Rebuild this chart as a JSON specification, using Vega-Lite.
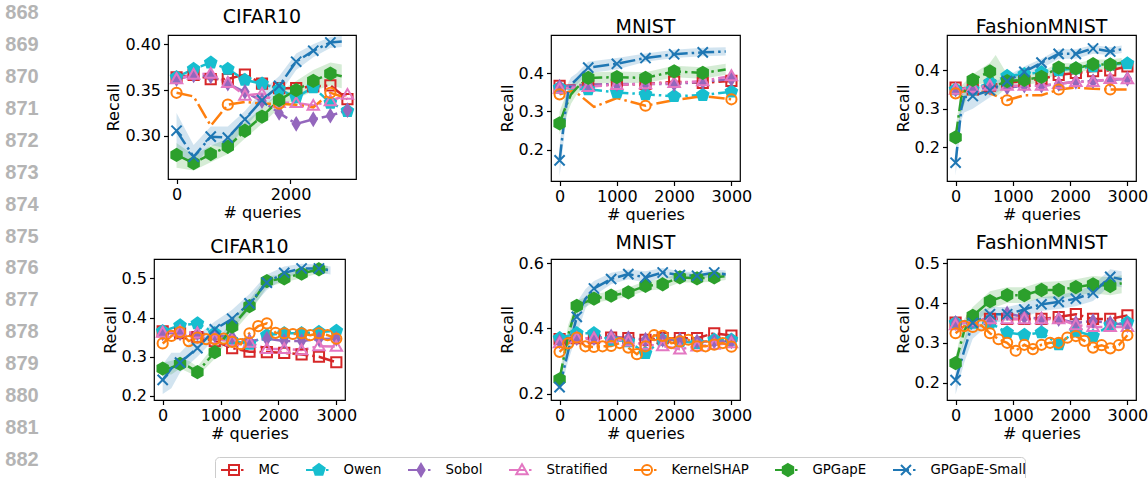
{
"$schema": "https://vega.github.io/schema/vega-lite/v6.json",
"padding": 0,
"autosize": {"type": "pad"},
"config": {
  "font": "DejaVu Sans",
  "view": {"stroke": null},
  "axis": {"domain": false, "grid": false, "tickColor": "black", "tickSize": 4.5, "tickWidth": 1.2, "labelFont": "DejaVu Sans", "labelFontSize": 16, "labelColor": "black", "labelPadding": 3, "labelOverlap": false, "titleFont": "DejaVu Sans", "titleFontSize": 16, "titleFontWeight": "normal", "titleColor": "black"},
  "axisX": {"titlePadding": 2},
  "axisY": {"titlePadding": 3},
  "title": {"font": "DejaVu Sans", "fontSize": 19, "fontWeight": "normal", "color": "black", "baseline": "bottom", "offset": 2, "frame": "group"}
},
"spacing": 0,
"datasets": {
"d": [
{"p":"c1","m":"MC","q":0,"y":0.364},{"p":"c1","m":"MC","q":300,"y":0.3665},{"p":"c1","m":"MC","q":600,"y":0.362},{"p":"c1","m":"MC","q":900,"y":0.362},{"p":"c1","m":"MC","q":1200,"y":0.367},{"p":"c1","m":"MC","q":1500,"y":0.357},{"p":"c1","m":"MC","q":1800,"y":0.352},{"p":"c1","m":"MC","q":2100,"y":0.352},{"p":"c1","m":"MC","q":2400,"y":0.354},{"p":"c1","m":"MC","q":2700,"y":0.355},{"p":"c1","m":"MC","q":3000,"y":0.340},
{"p":"c1","m":"Owen","q":0,"y":0.364},{"p":"c1","m":"Owen","q":300,"y":0.373},{"p":"c1","m":"Owen","q":600,"y":0.380},{"p":"c1","m":"Owen","q":900,"y":0.373},{"p":"c1","m":"Owen","q":1200,"y":0.361},{"p":"c1","m":"Owen","q":1500,"y":0.357},{"p":"c1","m":"Owen","q":1800,"y":0.351},{"p":"c1","m":"Owen","q":2100,"y":0.342},{"p":"c1","m":"Owen","q":2400,"y":0.353},{"p":"c1","m":"Owen","q":2700,"y":0.336},{"p":"c1","m":"Owen","q":3000,"y":0.327},
{"p":"c1","m":"Sobol","q":0,"y":0.362},{"p":"c1","m":"Sobol","q":300,"y":0.366},{"p":"c1","m":"Sobol","q":600,"y":0.365},{"p":"c1","m":"Sobol","q":900,"y":0.357},{"p":"c1","m":"Sobol","q":1200,"y":0.348},{"p":"c1","m":"Sobol","q":1500,"y":0.338},{"p":"c1","m":"Sobol","q":1800,"y":0.325},{"p":"c1","m":"Sobol","q":2100,"y":0.313},{"p":"c1","m":"Sobol","q":2400,"y":0.318},{"p":"c1","m":"Sobol","q":2700,"y":0.322},{"p":"c1","m":"Sobol","q":3000,"y":0.328},
{"p":"c1","m":"Stratified","q":0,"y":0.362},{"p":"c1","m":"Stratified","q":300,"y":0.367},{"p":"c1","m":"Stratified","q":600,"y":0.368},{"p":"c1","m":"Stratified","q":900,"y":0.358},{"p":"c1","m":"Stratified","q":1200,"y":0.344},{"p":"c1","m":"Stratified","q":1500,"y":0.346},{"p":"c1","m":"Stratified","q":1800,"y":0.336},{"p":"c1","m":"Stratified","q":2100,"y":0.336},{"p":"c1","m":"Stratified","q":2400,"y":0.333},{"p":"c1","m":"Stratified","q":2700,"y":0.338},{"p":"c1","m":"Stratified","q":3000,"y":0.345},
{"p":"c1","m":"KernelSHAP","q":0,"y":0.347},{"p":"c1","m":"KernelSHAP","q":300,"y":0.343},{"p":"c1","m":"KernelSHAP","q":600,"y":0.311},{"p":"c1","m":"KernelSHAP","q":900,"y":0.334},{"p":"c1","m":"KernelSHAP","q":1200,"y":0.337},{"p":"c1","m":"KernelSHAP","q":1500,"y":0.335},{"p":"c1","m":"KernelSHAP","q":1800,"y":0.335},{"p":"c1","m":"KernelSHAP","q":2100,"y":0.334},{"p":"c1","m":"KernelSHAP","q":2400,"y":0.331},{"p":"c1","m":"KernelSHAP","q":2700,"y":0.347},{"p":"c1","m":"KernelSHAP","q":3000,"y":0.341},
{"p":"c1","m":"GPGapE","q":0,"y":0.279,"lo":0.265,"hi":0.292},{"p":"c1","m":"GPGapE","q":300,"y":0.270,"lo":0.262,"hi":0.279},{"p":"c1","m":"GPGapE","q":600,"y":0.280,"lo":0.271,"hi":0.289},{"p":"c1","m":"GPGapE","q":900,"y":0.288,"lo":0.280,"hi":0.297},{"p":"c1","m":"GPGapE","q":1200,"y":0.3055,"lo":0.297,"hi":0.315},{"p":"c1","m":"GPGapE","q":1500,"y":0.321,"lo":0.313,"hi":0.330},{"p":"c1","m":"GPGapE","q":1800,"y":0.339,"lo":0.330,"hi":0.348},{"p":"c1","m":"GPGapE","q":2100,"y":0.350,"lo":0.340,"hi":0.360},{"p":"c1","m":"GPGapE","q":2400,"y":0.360,"lo":0.349,"hi":0.372},{"p":"c1","m":"GPGapE","q":2700,"y":0.368,"lo":0.355,"hi":0.380},{"p":"c1","m":"GPGapE","q":2900,"y":0.365,"lo":0.352,"hi":0.378},
{"p":"c1","m":"GPGapE-Small","q":0,"y":0.3055,"lo":0.285,"hi":0.325},{"p":"c1","m":"GPGapE-Small","q":300,"y":0.277,"lo":0.265,"hi":0.290},{"p":"c1","m":"GPGapE-Small","q":600,"y":0.299,"lo":0.290,"hi":0.310},{"p":"c1","m":"GPGapE-Small","q":900,"y":0.298,"lo":0.286,"hi":0.310},{"p":"c1","m":"GPGapE-Small","q":1200,"y":0.318,"lo":0.309,"hi":0.327},{"p":"c1","m":"GPGapE-Small","q":1500,"y":0.339,"lo":0.330,"hi":0.349},{"p":"c1","m":"GPGapE-Small","q":1800,"y":0.3545,"lo":0.345,"hi":0.365},{"p":"c1","m":"GPGapE-Small","q":2100,"y":0.381,"lo":0.372,"hi":0.390},{"p":"c1","m":"GPGapE-Small","q":2400,"y":0.393,"lo":0.386,"hi":0.400},{"p":"c1","m":"GPGapE-Small","q":2700,"y":0.402,"lo":0.396,"hi":0.408},{"p":"c1","m":"GPGapE-Small","q":2900,"y":0.403,"lo":0.397,"hi":0.409},

{"p":"m1","m":"MC","q":0,"y":0.367},{"p":"m1","m":"MC","q":500,"y":0.370},{"p":"m1","m":"MC","q":1000,"y":0.370},{"p":"m1","m":"MC","q":1500,"y":0.372},{"p":"m1","m":"MC","q":2000,"y":0.378},{"p":"m1","m":"MC","q":2500,"y":0.375},{"p":"m1","m":"MC","q":3000,"y":0.380},
{"p":"m1","m":"Owen","q":0,"y":0.362},{"p":"m1","m":"Owen","q":500,"y":0.358},{"p":"m1","m":"Owen","q":1000,"y":0.350},{"p":"m1","m":"Owen","q":1500,"y":0.345},{"p":"m1","m":"Owen","q":2000,"y":0.340},{"p":"m1","m":"Owen","q":2500,"y":0.343},{"p":"m1","m":"Owen","q":3000,"y":0.352},
{"p":"m1","m":"Sobol","q":0,"y":0.365},{"p":"m1","m":"Sobol","q":500,"y":0.370},{"p":"m1","m":"Sobol","q":1000,"y":0.372},{"p":"m1","m":"Sobol","q":1500,"y":0.372},{"p":"m1","m":"Sobol","q":2000,"y":0.372},{"p":"m1","m":"Sobol","q":2500,"y":0.378},{"p":"m1","m":"Sobol","q":3000,"y":0.385},
{"p":"m1","m":"Stratified","q":0,"y":0.360},{"p":"m1","m":"Stratified","q":500,"y":0.365},{"p":"m1","m":"Stratified","q":1000,"y":0.370},{"p":"m1","m":"Stratified","q":1500,"y":0.372},{"p":"m1","m":"Stratified","q":2000,"y":0.375},{"p":"m1","m":"Stratified","q":2500,"y":0.380},{"p":"m1","m":"Stratified","q":3000,"y":0.393},
{"p":"m1","m":"KernelSHAP","q":0,"y":0.345},{"p":"m1","m":"KernelSHAP","q":250,"y":0.355},{"p":"m1","m":"KernelSHAP","q":600,"y":0.312},{"p":"m1","m":"KernelSHAP","q":1000,"y":0.335},{"p":"m1","m":"KernelSHAP","q":1500,"y":0.315},{"p":"m1","m":"KernelSHAP","q":2000,"y":0.330},{"p":"m1","m":"KernelSHAP","q":2500,"y":0.340},{"p":"m1","m":"KernelSHAP","q":3000,"y":0.332},
{"p":"m1","m":"GPGapE","q":0,"y":0.269,"lo":0.24,"hi":0.30},{"p":"m1","m":"GPGapE","q":100,"y":0.310,"lo":0.28,"hi":0.34},{"p":"m1","m":"GPGapE","q":200,"y":0.345,"lo":0.32,"hi":0.37},{"p":"m1","m":"GPGapE","q":300,"y":0.362,"lo":0.345,"hi":0.385},{"p":"m1","m":"GPGapE","q":500,"y":0.388,"lo":0.372,"hi":0.402},{"p":"m1","m":"GPGapE","q":1000,"y":0.390,"lo":0.376,"hi":0.405},{"p":"m1","m":"GPGapE","q":1500,"y":0.388,"lo":0.374,"hi":0.403},{"p":"m1","m":"GPGapE","q":2000,"y":0.405,"lo":0.390,"hi":0.420},{"p":"m1","m":"GPGapE","q":2500,"y":0.401,"lo":0.386,"hi":0.416},{"p":"m1","m":"GPGapE","q":2900,"y":0.410,"lo":0.396,"hi":0.425},
{"p":"m1","m":"GPGapE-Small","q":0,"y":0.172,"lo":0.13,"hi":0.21},{"p":"m1","m":"GPGapE-Small","q":100,"y":0.300,"lo":0.26,"hi":0.34},{"p":"m1","m":"GPGapE-Small","q":150,"y":0.350,"lo":0.32,"hi":0.375},{"p":"m1","m":"GPGapE-Small","q":200,"y":0.370,"lo":0.35,"hi":0.39},{"p":"m1","m":"GPGapE-Small","q":300,"y":0.385,"lo":0.37,"hi":0.40},{"p":"m1","m":"GPGapE-Small","q":500,"y":0.415,"lo":0.40,"hi":0.43},{"p":"m1","m":"GPGapE-Small","q":1000,"y":0.425,"lo":0.41,"hi":0.44},{"p":"m1","m":"GPGapE-Small","q":1500,"y":0.440,"lo":0.43,"hi":0.452},{"p":"m1","m":"GPGapE-Small","q":2000,"y":0.450,"lo":0.44,"hi":0.462},{"p":"m1","m":"GPGapE-Small","q":2500,"y":0.455,"lo":0.445,"hi":0.467},{"p":"m1","m":"GPGapE-Small","q":2900,"y":0.457,"lo":0.447,"hi":0.468},

{"p":"f1","m":"MC","q":0,"y":0.355},{"p":"f1","m":"MC","q":300,"y":0.350},{"p":"f1","m":"MC","q":600,"y":0.360},{"p":"f1","m":"MC","q":900,"y":0.368},{"p":"f1","m":"MC","q":1200,"y":0.372},{"p":"f1","m":"MC","q":1500,"y":0.378},{"p":"f1","m":"MC","q":1800,"y":0.388},{"p":"f1","m":"MC","q":2100,"y":0.393},{"p":"f1","m":"MC","q":2400,"y":0.398},{"p":"f1","m":"MC","q":2700,"y":0.400},{"p":"f1","m":"MC","q":3000,"y":0.410},
{"p":"f1","m":"Owen","q":0,"y":0.350},{"p":"f1","m":"Owen","q":300,"y":0.350},{"p":"f1","m":"Owen","q":600,"y":0.368},{"p":"f1","m":"Owen","q":900,"y":0.385},{"p":"f1","m":"Owen","q":1200,"y":0.390},{"p":"f1","m":"Owen","q":1500,"y":0.395},{"p":"f1","m":"Owen","q":1800,"y":0.400},{"p":"f1","m":"Owen","q":2100,"y":0.405},{"p":"f1","m":"Owen","q":2400,"y":0.410},{"p":"f1","m":"Owen","q":2700,"y":0.415},{"p":"f1","m":"Owen","q":3000,"y":0.418},
{"p":"f1","m":"Sobol","q":0,"y":0.350},{"p":"f1","m":"Sobol","q":300,"y":0.350},{"p":"f1","m":"Sobol","q":600,"y":0.355},{"p":"f1","m":"Sobol","q":900,"y":0.355},{"p":"f1","m":"Sobol","q":1200,"y":0.360},{"p":"f1","m":"Sobol","q":1500,"y":0.360},{"p":"f1","m":"Sobol","q":1800,"y":0.365},{"p":"f1","m":"Sobol","q":2100,"y":0.370},{"p":"f1","m":"Sobol","q":2400,"y":0.372},{"p":"f1","m":"Sobol","q":2700,"y":0.375},{"p":"f1","m":"Sobol","q":3000,"y":0.378},
{"p":"f1","m":"Stratified","q":0,"y":0.350},{"p":"f1","m":"Stratified","q":300,"y":0.355},{"p":"f1","m":"Stratified","q":600,"y":0.360},{"p":"f1","m":"Stratified","q":900,"y":0.360},{"p":"f1","m":"Stratified","q":1200,"y":0.360},{"p":"f1","m":"Stratified","q":1500,"y":0.360},{"p":"f1","m":"Stratified","q":1800,"y":0.365},{"p":"f1","m":"Stratified","q":2100,"y":0.370},{"p":"f1","m":"Stratified","q":2400,"y":0.370},{"p":"f1","m":"Stratified","q":2700,"y":0.378},{"p":"f1","m":"Stratified","q":3000,"y":0.377},
{"p":"f1","m":"KernelSHAP","q":0,"y":0.340},{"p":"f1","m":"KernelSHAP","q":300,"y":0.350},{"p":"f1","m":"KernelSHAP","q":600,"y":0.340},{"p":"f1","m":"KernelSHAP","q":900,"y":0.322},{"p":"f1","m":"KernelSHAP","q":1200,"y":0.335},{"p":"f1","m":"KernelSHAP","q":1500,"y":0.335},{"p":"f1","m":"KernelSHAP","q":1800,"y":0.350},{"p":"f1","m":"KernelSHAP","q":2100,"y":0.355},{"p":"f1","m":"KernelSHAP","q":2400,"y":0.352},{"p":"f1","m":"KernelSHAP","q":2700,"y":0.350},{"p":"f1","m":"KernelSHAP","q":3000,"y":0.350},
{"p":"f1","m":"GPGapE","q":0,"y":0.225,"lo":0.205,"hi":0.245},{"p":"f1","m":"GPGapE","q":100,"y":0.330,"lo":0.29,"hi":0.36},{"p":"f1","m":"GPGapE","q":200,"y":0.355,"lo":0.33,"hi":0.375},{"p":"f1","m":"GPGapE","q":300,"y":0.375,"lo":0.36,"hi":0.39},{"p":"f1","m":"GPGapE","q":600,"y":0.397,"lo":0.37,"hi":0.42},{"p":"f1","m":"GPGapE","q":700,"y":0.360,"lo":0.33,"hi":0.44},{"p":"f1","m":"GPGapE","q":900,"y":0.372,"lo":0.355,"hi":0.39},{"p":"f1","m":"GPGapE","q":1200,"y":0.375,"lo":0.36,"hi":0.39},{"p":"f1","m":"GPGapE","q":1500,"y":0.383,"lo":0.37,"hi":0.396},{"p":"f1","m":"GPGapE","q":1800,"y":0.407,"lo":0.393,"hi":0.42},{"p":"f1","m":"GPGapE","q":2100,"y":0.405,"lo":0.393,"hi":0.418},{"p":"f1","m":"GPGapE","q":2400,"y":0.416,"lo":0.403,"hi":0.428},{"p":"f1","m":"GPGapE","q":2700,"y":0.415,"lo":0.402,"hi":0.428},{"p":"f1","m":"GPGapE","q":2900,"y":0.420,"lo":0.407,"hi":0.432},
{"p":"f1","m":"GPGapE-Small","q":0,"y":0.159,"lo":0.125,"hi":0.19},{"p":"f1","m":"GPGapE-Small","q":100,"y":0.300,"lo":0.27,"hi":0.33},{"p":"f1","m":"GPGapE-Small","q":150,"y":0.330,"lo":0.29,"hi":0.36},{"p":"f1","m":"GPGapE-Small","q":300,"y":0.333,"lo":0.30,"hi":0.36},{"p":"f1","m":"GPGapE-Small","q":600,"y":0.348,"lo":0.33,"hi":0.365},{"p":"f1","m":"GPGapE-Small","q":900,"y":0.372,"lo":0.36,"hi":0.385},{"p":"f1","m":"GPGapE-Small","q":1200,"y":0.396,"lo":0.385,"hi":0.41},{"p":"f1","m":"GPGapE-Small","q":1500,"y":0.420,"lo":0.405,"hi":0.43},{"p":"f1","m":"GPGapE-Small","q":1800,"y":0.443,"lo":0.43,"hi":0.455},{"p":"f1","m":"GPGapE-Small","q":2100,"y":0.443,"lo":0.43,"hi":0.455},{"p":"f1","m":"GPGapE-Small","q":2400,"y":0.457,"lo":0.443,"hi":0.466},{"p":"f1","m":"GPGapE-Small","q":2700,"y":0.449,"lo":0.44,"hi":0.46},{"p":"f1","m":"GPGapE-Small","q":2900,"y":0.455,"lo":0.445,"hi":0.465},

{"p":"c2","m":"MC","q":0,"y":0.365},{"p":"c2","m":"MC","q":300,"y":0.360},{"p":"c2","m":"MC","q":600,"y":0.350},{"p":"c2","m":"MC","q":900,"y":0.340},{"p":"c2","m":"MC","q":1200,"y":0.322},{"p":"c2","m":"MC","q":1500,"y":0.313},{"p":"c2","m":"MC","q":1800,"y":0.312},{"p":"c2","m":"MC","q":2100,"y":0.310},{"p":"c2","m":"MC","q":2400,"y":0.306},{"p":"c2","m":"MC","q":2700,"y":0.300},{"p":"c2","m":"MC","q":3000,"y":0.286},
{"p":"c2","m":"Owen","q":0,"y":0.365},{"p":"c2","m":"Owen","q":300,"y":0.380},{"p":"c2","m":"Owen","q":600,"y":0.385},{"p":"c2","m":"Owen","q":900,"y":0.360},{"p":"c2","m":"Owen","q":1200,"y":0.340},{"p":"c2","m":"Owen","q":1500,"y":0.333},{"p":"c2","m":"Owen","q":1800,"y":0.355},{"p":"c2","m":"Owen","q":2100,"y":0.360},{"p":"c2","m":"Owen","q":2400,"y":0.360},{"p":"c2","m":"Owen","q":2700,"y":0.363},{"p":"c2","m":"Owen","q":3000,"y":0.366},
{"p":"c2","m":"Sobol","q":0,"y":0.360},{"p":"c2","m":"Sobol","q":300,"y":0.360},{"p":"c2","m":"Sobol","q":600,"y":0.360},{"p":"c2","m":"Sobol","q":900,"y":0.355},{"p":"c2","m":"Sobol","q":1200,"y":0.350},{"p":"c2","m":"Sobol","q":1500,"y":0.340},{"p":"c2","m":"Sobol","q":1800,"y":0.346},{"p":"c2","m":"Sobol","q":2100,"y":0.340},{"p":"c2","m":"Sobol","q":2400,"y":0.340},{"p":"c2","m":"Sobol","q":2700,"y":0.345},{"p":"c2","m":"Sobol","q":3000,"y":0.346},
{"p":"c2","m":"Stratified","q":0,"y":0.362},{"p":"c2","m":"Stratified","q":300,"y":0.365},{"p":"c2","m":"Stratified","q":600,"y":0.360},{"p":"c2","m":"Stratified","q":900,"y":0.345},{"p":"c2","m":"Stratified","q":1200,"y":0.340},{"p":"c2","m":"Stratified","q":1500,"y":0.336},{"p":"c2","m":"Stratified","q":1800,"y":0.320},{"p":"c2","m":"Stratified","q":2100,"y":0.320},{"p":"c2","m":"Stratified","q":2400,"y":0.317},{"p":"c2","m":"Stratified","q":2700,"y":0.327},{"p":"c2","m":"Stratified","q":3000,"y":0.326},
{"p":"c2","m":"KernelSHAP","q":0,"y":0.334},{"p":"c2","m":"KernelSHAP","q":150,"y":0.353},{"p":"c2","m":"KernelSHAP","q":300,"y":0.363},{"p":"c2","m":"KernelSHAP","q":450,"y":0.340},{"p":"c2","m":"KernelSHAP","q":600,"y":0.349},{"p":"c2","m":"KernelSHAP","q":750,"y":0.345},{"p":"c2","m":"KernelSHAP","q":900,"y":0.345},{"p":"c2","m":"KernelSHAP","q":1050,"y":0.346},{"p":"c2","m":"KernelSHAP","q":1200,"y":0.338},{"p":"c2","m":"KernelSHAP","q":1350,"y":0.332},{"p":"c2","m":"KernelSHAP","q":1500,"y":0.360},{"p":"c2","m":"KernelSHAP","q":1650,"y":0.378},{"p":"c2","m":"KernelSHAP","q":1800,"y":0.385},{"p":"c2","m":"KernelSHAP","q":1950,"y":0.361},{"p":"c2","m":"KernelSHAP","q":2100,"y":0.360},{"p":"c2","m":"KernelSHAP","q":2250,"y":0.358},{"p":"c2","m":"KernelSHAP","q":2400,"y":0.360},{"p":"c2","m":"KernelSHAP","q":2550,"y":0.355},{"p":"c2","m":"KernelSHAP","q":2700,"y":0.360},{"p":"c2","m":"KernelSHAP","q":2850,"y":0.355},{"p":"c2","m":"KernelSHAP","q":3000,"y":0.346},
{"p":"c2","m":"GPGapE","q":0,"y":0.270,"lo":0.255,"hi":0.285},{"p":"c2","m":"GPGapE","q":150,"y":0.272,"lo":0.255,"hi":0.29},{"p":"c2","m":"GPGapE","q":300,"y":0.282,"lo":0.27,"hi":0.295},{"p":"c2","m":"GPGapE","q":450,"y":0.275,"lo":0.26,"hi":0.29},{"p":"c2","m":"GPGapE","q":600,"y":0.261,"lo":0.25,"hi":0.275},{"p":"c2","m":"GPGapE","q":900,"y":0.312,"lo":0.295,"hi":0.33},{"p":"c2","m":"GPGapE","q":1200,"y":0.377,"lo":0.36,"hi":0.395},{"p":"c2","m":"GPGapE","q":1500,"y":0.429,"lo":0.41,"hi":0.445},{"p":"c2","m":"GPGapE","q":1800,"y":0.493,"lo":0.477,"hi":0.505},{"p":"c2","m":"GPGapE","q":2100,"y":0.500,"lo":0.49,"hi":0.51},{"p":"c2","m":"GPGapE","q":2400,"y":0.512,"lo":0.50,"hi":0.522},{"p":"c2","m":"GPGapE","q":2700,"y":0.523,"lo":0.513,"hi":0.532},{"p":"c2","m":"GPGapE","q":2850,"y":0.522,"lo":0.512,"hi":0.532},
{"p":"c2","m":"GPGapE-Small","q":0,"y":0.241,"lo":0.205,"hi":0.28},{"p":"c2","m":"GPGapE-Small","q":150,"y":0.270,"lo":0.22,"hi":0.31},{"p":"c2","m":"GPGapE-Small","q":300,"y":0.285,"lo":0.26,"hi":0.31},{"p":"c2","m":"GPGapE-Small","q":600,"y":0.322,"lo":0.30,"hi":0.355},{"p":"c2","m":"GPGapE-Small","q":900,"y":0.370,"lo":0.345,"hi":0.39},{"p":"c2","m":"GPGapE-Small","q":1200,"y":0.397,"lo":0.37,"hi":0.42},{"p":"c2","m":"GPGapE-Small","q":1500,"y":0.436,"lo":0.42,"hi":0.46},{"p":"c2","m":"GPGapE-Small","q":1800,"y":0.489,"lo":0.47,"hi":0.51},{"p":"c2","m":"GPGapE-Small","q":2100,"y":0.514,"lo":0.50,"hi":0.53},{"p":"c2","m":"GPGapE-Small","q":2400,"y":0.525,"lo":0.513,"hi":0.537},{"p":"c2","m":"GPGapE-Small","q":2700,"y":0.525,"lo":0.515,"hi":0.535},{"p":"c2","m":"GPGapE-Small","q":2900,"y":0.520,"lo":0.51,"hi":0.53},

{"p":"m2","m":"MC","q":0,"y":0.367},{"p":"m2","m":"MC","q":300,"y":0.370},{"p":"m2","m":"MC","q":600,"y":0.370},{"p":"m2","m":"MC","q":900,"y":0.372},{"p":"m2","m":"MC","q":1200,"y":0.370},{"p":"m2","m":"MC","q":1500,"y":0.365},{"p":"m2","m":"MC","q":1800,"y":0.370},{"p":"m2","m":"MC","q":2100,"y":0.370},{"p":"m2","m":"MC","q":2400,"y":0.370},{"p":"m2","m":"MC","q":2700,"y":0.385},{"p":"m2","m":"MC","q":3000,"y":0.378},
{"p":"m2","m":"Owen","q":0,"y":0.370},{"p":"m2","m":"Owen","q":300,"y":0.385},{"p":"m2","m":"Owen","q":600,"y":0.385},{"p":"m2","m":"Owen","q":900,"y":0.365},{"p":"m2","m":"Owen","q":1200,"y":0.360},{"p":"m2","m":"Owen","q":1500,"y":0.324},{"p":"m2","m":"Owen","q":1800,"y":0.365},{"p":"m2","m":"Owen","q":2100,"y":0.360},{"p":"m2","m":"Owen","q":2400,"y":0.355},{"p":"m2","m":"Owen","q":2700,"y":0.365},{"p":"m2","m":"Owen","q":3000,"y":0.365},
{"p":"m2","m":"Sobol","q":0,"y":0.360},{"p":"m2","m":"Sobol","q":300,"y":0.370},{"p":"m2","m":"Sobol","q":600,"y":0.370},{"p":"m2","m":"Sobol","q":900,"y":0.375},{"p":"m2","m":"Sobol","q":1200,"y":0.370},{"p":"m2","m":"Sobol","q":1500,"y":0.365},{"p":"m2","m":"Sobol","q":1800,"y":0.365},{"p":"m2","m":"Sobol","q":2100,"y":0.365},{"p":"m2","m":"Sobol","q":2400,"y":0.360},{"p":"m2","m":"Sobol","q":2700,"y":0.360},{"p":"m2","m":"Sobol","q":3000,"y":0.360},
{"p":"m2","m":"Stratified","q":0,"y":0.355},{"p":"m2","m":"Stratified","q":300,"y":0.370},{"p":"m2","m":"Stratified","q":600,"y":0.370},{"p":"m2","m":"Stratified","q":900,"y":0.370},{"p":"m2","m":"Stratified","q":1200,"y":0.360},{"p":"m2","m":"Stratified","q":1500,"y":0.350},{"p":"m2","m":"Stratified","q":1800,"y":0.346},{"p":"m2","m":"Stratified","q":2100,"y":0.336},{"p":"m2","m":"Stratified","q":2400,"y":0.345},{"p":"m2","m":"Stratified","q":2700,"y":0.350},{"p":"m2","m":"Stratified","q":3000,"y":0.355},
{"p":"m2","m":"KernelSHAP","q":0,"y":0.328},{"p":"m2","m":"KernelSHAP","q":150,"y":0.354},{"p":"m2","m":"KernelSHAP","q":300,"y":0.372},{"p":"m2","m":"KernelSHAP","q":450,"y":0.345},{"p":"m2","m":"KernelSHAP","q":600,"y":0.343},{"p":"m2","m":"KernelSHAP","q":750,"y":0.345},{"p":"m2","m":"KernelSHAP","q":900,"y":0.346},{"p":"m2","m":"KernelSHAP","q":1050,"y":0.355},{"p":"m2","m":"KernelSHAP","q":1200,"y":0.341},{"p":"m2","m":"KernelSHAP","q":1350,"y":0.321},{"p":"m2","m":"KernelSHAP","q":1500,"y":0.345},{"p":"m2","m":"KernelSHAP","q":1650,"y":0.379},{"p":"m2","m":"KernelSHAP","q":1800,"y":0.377},{"p":"m2","m":"KernelSHAP","q":1950,"y":0.355},{"p":"m2","m":"KernelSHAP","q":2100,"y":0.360},{"p":"m2","m":"KernelSHAP","q":2250,"y":0.365},{"p":"m2","m":"KernelSHAP","q":2400,"y":0.345},{"p":"m2","m":"KernelSHAP","q":2550,"y":0.345},{"p":"m2","m":"KernelSHAP","q":2700,"y":0.350},{"p":"m2","m":"KernelSHAP","q":2850,"y":0.355},{"p":"m2","m":"KernelSHAP","q":3000,"y":0.344},
{"p":"m2","m":"GPGapE","q":0,"y":0.244,"lo":0.235,"hi":0.26},{"p":"m2","m":"GPGapE","q":150,"y":0.380,"lo":0.35,"hi":0.41},{"p":"m2","m":"GPGapE","q":300,"y":0.469,"lo":0.45,"hi":0.485},{"p":"m2","m":"GPGapE","q":450,"y":0.480,"lo":0.465,"hi":0.495},{"p":"m2","m":"GPGapE","q":600,"y":0.491,"lo":0.478,"hi":0.505},{"p":"m2","m":"GPGapE","q":900,"y":0.500,"lo":0.487,"hi":0.513},{"p":"m2","m":"GPGapE","q":1200,"y":0.510,"lo":0.497,"hi":0.525},{"p":"m2","m":"GPGapE","q":1500,"y":0.530,"lo":0.515,"hi":0.545},{"p":"m2","m":"GPGapE","q":1800,"y":0.535,"lo":0.52,"hi":0.55},{"p":"m2","m":"GPGapE","q":2100,"y":0.556,"lo":0.54,"hi":0.57},{"p":"m2","m":"GPGapE","q":2400,"y":0.553,"lo":0.54,"hi":0.566},{"p":"m2","m":"GPGapE","q":2700,"y":0.556,"lo":0.543,"hi":0.57},{"p":"m2","m":"GPGapE","q":2900,"y":0.560,"lo":0.548,"hi":0.572},
{"p":"m2","m":"GPGapE-Small","q":0,"y":0.220,"lo":0.20,"hi":0.25},{"p":"m2","m":"GPGapE-Small","q":150,"y":0.330,"lo":0.30,"hi":0.37},{"p":"m2","m":"GPGapE-Small","q":300,"y":0.435,"lo":0.38,"hi":0.48},{"p":"m2","m":"GPGapE-Small","q":450,"y":0.490,"lo":0.46,"hi":0.52},{"p":"m2","m":"GPGapE-Small","q":600,"y":0.522,"lo":0.50,"hi":0.545},{"p":"m2","m":"GPGapE-Small","q":900,"y":0.551,"lo":0.535,"hi":0.57},{"p":"m2","m":"GPGapE-Small","q":1200,"y":0.566,"lo":0.55,"hi":0.58},{"p":"m2","m":"GPGapE-Small","q":1500,"y":0.556,"lo":0.54,"hi":0.575},{"p":"m2","m":"GPGapE-Small","q":1800,"y":0.571,"lo":0.555,"hi":0.585},{"p":"m2","m":"GPGapE-Small","q":2100,"y":0.563,"lo":0.55,"hi":0.575},{"p":"m2","m":"GPGapE-Small","q":2400,"y":0.561,"lo":0.55,"hi":0.572},{"p":"m2","m":"GPGapE-Small","q":2700,"y":0.571,"lo":0.558,"hi":0.58},{"p":"m2","m":"GPGapE-Small","q":2900,"y":0.565,"lo":0.555,"hi":0.577},

{"p":"f2","m":"MC","q":0,"y":0.351},{"p":"f2","m":"MC","q":300,"y":0.355},{"p":"f2","m":"MC","q":600,"y":0.360},{"p":"f2","m":"MC","q":900,"y":0.360},{"p":"f2","m":"MC","q":1200,"y":0.360},{"p":"f2","m":"MC","q":1500,"y":0.360},{"p":"f2","m":"MC","q":1800,"y":0.365},{"p":"f2","m":"MC","q":2100,"y":0.372},{"p":"f2","m":"MC","q":2400,"y":0.360},{"p":"f2","m":"MC","q":2700,"y":0.360},{"p":"f2","m":"MC","q":3000,"y":0.369},
{"p":"f2","m":"Owen","q":0,"y":0.350},{"p":"f2","m":"Owen","q":300,"y":0.350},{"p":"f2","m":"Owen","q":600,"y":0.350},{"p":"f2","m":"Owen","q":900,"y":0.326},{"p":"f2","m":"Owen","q":1200,"y":0.320},{"p":"f2","m":"Owen","q":1500,"y":0.326},{"p":"f2","m":"Owen","q":1800,"y":0.296},{"p":"f2","m":"Owen","q":2100,"y":0.330},{"p":"f2","m":"Owen","q":2400,"y":0.317},{"p":"f2","m":"Owen","q":2700,"y":0.345},{"p":"f2","m":"Owen","q":3000,"y":0.351},
{"p":"f2","m":"Sobol","q":0,"y":0.350},{"p":"f2","m":"Sobol","q":300,"y":0.355},{"p":"f2","m":"Sobol","q":600,"y":0.360},{"p":"f2","m":"Sobol","q":900,"y":0.374},{"p":"f2","m":"Sobol","q":1200,"y":0.365},{"p":"f2","m":"Sobol","q":1500,"y":0.360},{"p":"f2","m":"Sobol","q":1800,"y":0.360},{"p":"f2","m":"Sobol","q":2100,"y":0.350},{"p":"f2","m":"Sobol","q":2400,"y":0.355},{"p":"f2","m":"Sobol","q":2700,"y":0.350},{"p":"f2","m":"Sobol","q":3000,"y":0.345},
{"p":"f2","m":"Stratified","q":0,"y":0.345},{"p":"f2","m":"Stratified","q":300,"y":0.355},{"p":"f2","m":"Stratified","q":600,"y":0.360},{"p":"f2","m":"Stratified","q":900,"y":0.360},{"p":"f2","m":"Stratified","q":1200,"y":0.360},{"p":"f2","m":"Stratified","q":1500,"y":0.360},{"p":"f2","m":"Stratified","q":1800,"y":0.360},{"p":"f2","m":"Stratified","q":2100,"y":0.345},{"p":"f2","m":"Stratified","q":2400,"y":0.340},{"p":"f2","m":"Stratified","q":2700,"y":0.340},{"p":"f2","m":"Stratified","q":3000,"y":0.340},
{"p":"f2","m":"KernelSHAP","q":0,"y":0.324},{"p":"f2","m":"KernelSHAP","q":150,"y":0.342},{"p":"f2","m":"KernelSHAP","q":300,"y":0.340},{"p":"f2","m":"KernelSHAP","q":450,"y":0.344},{"p":"f2","m":"KernelSHAP","q":600,"y":0.324},{"p":"f2","m":"KernelSHAP","q":750,"y":0.309},{"p":"f2","m":"KernelSHAP","q":900,"y":0.300},{"p":"f2","m":"KernelSHAP","q":1050,"y":0.280},{"p":"f2","m":"KernelSHAP","q":1200,"y":0.295},{"p":"f2","m":"KernelSHAP","q":1350,"y":0.284},{"p":"f2","m":"KernelSHAP","q":1500,"y":0.295},{"p":"f2","m":"KernelSHAP","q":1650,"y":0.300},{"p":"f2","m":"KernelSHAP","q":1800,"y":0.300},{"p":"f2","m":"KernelSHAP","q":1950,"y":0.313},{"p":"f2","m":"KernelSHAP","q":2100,"y":0.317},{"p":"f2","m":"KernelSHAP","q":2250,"y":0.305},{"p":"f2","m":"KernelSHAP","q":2400,"y":0.288},{"p":"f2","m":"KernelSHAP","q":2550,"y":0.294},{"p":"f2","m":"KernelSHAP","q":2700,"y":0.286},{"p":"f2","m":"KernelSHAP","q":2850,"y":0.294},{"p":"f2","m":"KernelSHAP","q":3000,"y":0.319},
{"p":"f2","m":"GPGapE","q":0,"y":0.249,"lo":0.235,"hi":0.265},{"p":"f2","m":"GPGapE","q":150,"y":0.330,"lo":0.30,"hi":0.36},{"p":"f2","m":"GPGapE","q":300,"y":0.368,"lo":0.345,"hi":0.39},{"p":"f2","m":"GPGapE","q":600,"y":0.405,"lo":0.385,"hi":0.43},{"p":"f2","m":"GPGapE","q":900,"y":0.420,"lo":0.40,"hi":0.44},{"p":"f2","m":"GPGapE","q":1200,"y":0.420,"lo":0.40,"hi":0.44},{"p":"f2","m":"GPGapE","q":1500,"y":0.433,"lo":0.413,"hi":0.453},{"p":"f2","m":"GPGapE","q":1800,"y":0.433,"lo":0.41,"hi":0.455},{"p":"f2","m":"GPGapE","q":2100,"y":0.440,"lo":0.42,"hi":0.46},{"p":"f2","m":"GPGapE","q":2400,"y":0.447,"lo":0.425,"hi":0.468},{"p":"f2","m":"GPGapE","q":2700,"y":0.443,"lo":0.42,"hi":0.465},{"p":"f2","m":"GPGapE","q":2900,"y":0.450,"lo":0.425,"hi":0.47},
{"p":"f2","m":"GPGapE-Small","q":0,"y":0.206,"lo":0.17,"hi":0.235},{"p":"f2","m":"GPGapE-Small","q":150,"y":0.280,"lo":0.25,"hi":0.31},{"p":"f2","m":"GPGapE-Small","q":300,"y":0.350,"lo":0.31,"hi":0.37},{"p":"f2","m":"GPGapE-Small","q":600,"y":0.372,"lo":0.35,"hi":0.39},{"p":"f2","m":"GPGapE-Small","q":900,"y":0.372,"lo":0.355,"hi":0.39},{"p":"f2","m":"GPGapE-Small","q":1200,"y":0.384,"lo":0.365,"hi":0.40},{"p":"f2","m":"GPGapE-Small","q":1500,"y":0.397,"lo":0.38,"hi":0.415},{"p":"f2","m":"GPGapE-Small","q":1800,"y":0.403,"lo":0.385,"hi":0.42},{"p":"f2","m":"GPGapE-Small","q":2100,"y":0.411,"lo":0.392,"hi":0.43},{"p":"f2","m":"GPGapE-Small","q":2400,"y":0.426,"lo":0.405,"hi":0.445},{"p":"f2","m":"GPGapE-Small","q":2700,"y":0.466,"lo":0.445,"hi":0.485},{"p":"f2","m":"GPGapE-Small","q":2900,"y":0.460,"lo":0.44,"hi":0.48}
]
},
"hconcat": [
{"width": 44, "height": 478,
 "data": {"values": [{"n":868},{"n":869},{"n":870},{"n":871},{"n":872},{"n":873},{"n":874},{"n":875},{"n":876},{"n":877},{"n":878},{"n":879},{"n":880},{"n":881},{"n":882}]},
 "mark": {"type": "text", "font": "Liberation Sans", "fontSize": 20, "fontWeight": "bold", "color": "#b4b4b4"},
 "encoding": {"y": {"field": "n", "type": "quantitative", "scale": {"domain": [867.593, 882.563], "reverse": true, "nice": false, "zero": false}, "axis": null}, "text": {"field": "n", "type": "quantitative", "format": "d"}}},
{"spacing": 0,
 "resolve": {"scale": {"color": "independent", "stroke": "independent", "fill": "independent", "shape": "independent"}, "legend": {"color": "independent", "stroke": "independent", "fill": "independent", "shape": "independent"}},
 "vconcat": [
 {"width": 1, "height": 6.5, "data": {"values": []}, "mark": {"type": "point", "opacity": 0}},
 {"bounds": "flush", "spacing": 0, "hconcat": [
  {"width": 124, "height": 1, "data": {"values": []}, "mark": {"type": "point", "opacity": 0}},
  {"width": 188, "height": 144, "title": {"text": "CIFAR10", "offset": 6.5}, "view": {"stroke": "black", "strokeWidth": 1.2},
   "data": {"name": "d"}, "transform": [{"filter": "datum.p == 'c1'"}],
   "encoding": {
    "x": {"field": "q", "type": "quantitative", "scale": {"domain": [-150, 3150], "nice": false, "zero": false}, "axis": {"values": [0, 2000], "format": "d"}, "title": "# queries"},
    "y": {"field": "y", "type": "quantitative", "scale": {"domain": [0.2527, 0.4102], "nice": false, "zero": false}, "axis": {"values": [0.30, 0.35, 0.40], "format": ".2f"}, "title": "Recall"}},
   "layer": [
    {"transform": [{"filter": "isValid(datum.lo)"}], "mark": {"type": "area", "opacity": 0.2},
     "encoding": {"y": {"field": "lo", "type": "quantitative", "scale": {"domain": [0.2527, 0.4102], "nice": false, "zero": false}, "axis": {"values": [0.30, 0.35, 0.40], "format": ".2f"}, "title": "Recall"}, "y2": {"field": "hi"},
      "color": {"field": "m", "type": "nominal", "legend": null, "scale": {"domain": ["GPGapE", "GPGapE-Small"], "range": ["#2ca02c", "#1f77b4"]}}}},
    {"mark": {"type": "line", "strokeWidth": 2.5, "strokeDash": [16, 4, 2.5, 4]},
     "encoding": {"stroke": {"field": "m", "type": "nominal", "legend": null, "scale": {"domain": ["MC","Owen","Sobol","Stratified","KernelSHAP","GPGapE","GPGapE-Small"], "range": ["#d62728","#17becf","#9467bd","#e377c2","#ff7f0e","#2ca02c","#1f77b4"]}}}},
    {"transform": [{"filter": "datum.q % 300 == 0 && (datum.m != 'KernelSHAP' || datum.q % 900 == 0)"}],
     "mark": {"type": "point", "filled": true, "size": 144, "strokeWidth": 2, "opacity": 1},
     "encoding": {
      "stroke": {"field": "m", "type": "nominal", "legend": null, "scale": {"domain": ["MC","Owen","Sobol","Stratified","KernelSHAP","GPGapE","GPGapE-Small"], "range": ["#d62728","#17becf","#9467bd","#e377c2","#ff7f0e","#2ca02c","#1f77b4"]}},
      "fill": {"field": "m", "type": "nominal", "legend": null, "scale": {"domain": ["MC","Owen","Sobol","Stratified","KernelSHAP","GPGapE","GPGapE-Small"], "range": ["transparent","#17becf","#9467bd","transparent","transparent","#2ca02c","transparent"]}},
      "shape": {"field": "m", "type": "nominal", "legend": null, "scale": {"domain": ["MC","Owen","Sobol","Stratified","KernelSHAP","GPGapE","GPGapE-Small"], "range": ["M-0.85,-0.85H0.85V0.85H-0.85Z","M0,-1L0.951,-0.309L0.588,0.809L-0.588,0.809L-0.951,-0.309Z","M0,-1L0.6,0L0,1L-0.6,0Z","M0,-0.95L0.95,0.7L-0.95,0.7Z","M0.85,0A0.85,0.85,0,1,1,-0.85,0A0.85,0.85,0,1,1,0.85,0Z","M0,-1L0.866,-0.5L0.866,0.5L0,1L-0.866,0.5L-0.866,-0.5Z","M-0.85,-0.85L0.85,0.85M-0.85,0.85L0.85,-0.85"]}}}}
   ]},
  {"width": 195, "height": 1, "data": {"values": []}, "mark": {"type": "point", "opacity": 0}},
  {"width": 189, "height": 146, "title": {"text": "MNIST", "offset": -2}, "view": {"stroke": "black", "strokeWidth": 1.2},
   "data": {"name": "d"}, "transform": [{"filter": "datum.p == 'm1'"}],
   "encoding": {
    "x": {"field": "q", "type": "quantitative", "scale": {"domain": [-150, 3150], "nice": false, "zero": false}, "axis": {"values": [0, 1000, 2000, 3000], "format": "d"}, "title": "# queries"},
    "y": {"field": "y", "type": "quantitative", "scale": {"domain": [0.1179, 0.5004], "nice": false, "zero": false}, "axis": {"values": [0.2, 0.3, 0.4], "format": ".1f"}, "title": "Recall"}},
   "layer": [
    {"transform": [{"filter": "isValid(datum.lo)"}], "mark": {"type": "area", "opacity": 0.2},
     "encoding": {"y": {"field": "lo", "type": "quantitative", "scale": {"domain": [0.1179, 0.5004], "nice": false, "zero": false}, "axis": {"values": [0.2, 0.3, 0.4], "format": ".1f"}, "title": "Recall"}, "y2": {"field": "hi"},
      "color": {"field": "m", "type": "nominal", "legend": null, "scale": {"domain": ["GPGapE", "GPGapE-Small"], "range": ["#2ca02c", "#1f77b4"]}}}},
    {"mark": {"type": "line", "strokeWidth": 2.5, "strokeDash": [16, 4, 2.5, 4]},
     "encoding": {"stroke": {"field": "m", "type": "nominal", "legend": null, "scale": {"domain": ["MC","Owen","Sobol","Stratified","KernelSHAP","GPGapE","GPGapE-Small"], "range": ["#d62728","#17becf","#9467bd","#e377c2","#ff7f0e","#2ca02c","#1f77b4"]}}}},
    {"transform": [{"filter": "datum.q % 500 == 0 && (datum.m != 'KernelSHAP' || datum.q % 1500 == 0)"}],
     "mark": {"type": "point", "filled": true, "size": 144, "strokeWidth": 2, "opacity": 1},
     "encoding": {
      "stroke": {"field": "m", "type": "nominal", "legend": null, "scale": {"domain": ["MC","Owen","Sobol","Stratified","KernelSHAP","GPGapE","GPGapE-Small"], "range": ["#d62728","#17becf","#9467bd","#e377c2","#ff7f0e","#2ca02c","#1f77b4"]}},
      "fill": {"field": "m", "type": "nominal", "legend": null, "scale": {"domain": ["MC","Owen","Sobol","Stratified","KernelSHAP","GPGapE","GPGapE-Small"], "range": ["transparent","#17becf","#9467bd","transparent","transparent","#2ca02c","transparent"]}},
      "shape": {"field": "m", "type": "nominal", "legend": null, "scale": {"domain": ["MC","Owen","Sobol","Stratified","KernelSHAP","GPGapE","GPGapE-Small"], "range": ["M-0.85,-0.85H0.85V0.85H-0.85Z","M0,-1L0.951,-0.309L0.588,0.809L-0.588,0.809L-0.951,-0.309Z","M0,-1L0.6,0L0,1L-0.6,0Z","M0,-0.95L0.95,0.7L-0.95,0.7Z","M0.85,0A0.85,0.85,0,1,1,-0.85,0A0.85,0.85,0,1,1,0.85,0Z","M0,-1L0.866,-0.5L0.866,0.5L0,1L-0.866,0.5L-0.866,-0.5Z","M-0.85,-0.85L0.85,0.85M-0.85,0.85L0.85,-0.85"]}}}}
   ]},
  {"width": 207, "height": 1, "data": {"values": []}, "mark": {"type": "point", "opacity": 0}},
  {"width": 189, "height": 146, "title": {"text": "FashionMNIST", "offset": -2}, "view": {"stroke": "black", "strokeWidth": 1.2},
   "data": {"name": "d"}, "transform": [{"filter": "datum.p == 'f1'"}],
   "encoding": {
    "x": {"field": "q", "type": "quantitative", "scale": {"domain": [-150, 3150], "nice": false, "zero": false}, "axis": {"values": [0, 1000, 2000, 3000], "format": "d"}, "title": "# queries"},
    "y": {"field": "y", "type": "quantitative", "scale": {"domain": [0.1113, 0.4922], "nice": false, "zero": false}, "axis": {"values": [0.2, 0.3, 0.4], "format": ".1f"}, "title": "Recall"}},
   "layer": [
    {"transform": [{"filter": "isValid(datum.lo)"}], "mark": {"type": "area", "opacity": 0.2},
     "encoding": {"y": {"field": "lo", "type": "quantitative", "scale": {"domain": [0.1113, 0.4922], "nice": false, "zero": false}, "axis": {"values": [0.2, 0.3, 0.4], "format": ".1f"}, "title": "Recall"}, "y2": {"field": "hi"},
      "color": {"field": "m", "type": "nominal", "legend": null, "scale": {"domain": ["GPGapE", "GPGapE-Small"], "range": ["#2ca02c", "#1f77b4"]}}}},
    {"mark": {"type": "line", "strokeWidth": 2.5, "strokeDash": [16, 4, 2.5, 4]},
     "encoding": {"stroke": {"field": "m", "type": "nominal", "legend": null, "scale": {"domain": ["MC","Owen","Sobol","Stratified","KernelSHAP","GPGapE","GPGapE-Small"], "range": ["#d62728","#17becf","#9467bd","#e377c2","#ff7f0e","#2ca02c","#1f77b4"]}}}},
    {"transform": [{"filter": "datum.q % 300 == 0 && (datum.m != 'KernelSHAP' || datum.q % 900 == 0)"}],
     "mark": {"type": "point", "filled": true, "size": 144, "strokeWidth": 2, "opacity": 1},
     "encoding": {
      "stroke": {"field": "m", "type": "nominal", "legend": null, "scale": {"domain": ["MC","Owen","Sobol","Stratified","KernelSHAP","GPGapE","GPGapE-Small"], "range": ["#d62728","#17becf","#9467bd","#e377c2","#ff7f0e","#2ca02c","#1f77b4"]}},
      "fill": {"field": "m", "type": "nominal", "legend": null, "scale": {"domain": ["MC","Owen","Sobol","Stratified","KernelSHAP","GPGapE","GPGapE-Small"], "range": ["transparent","#17becf","#9467bd","transparent","transparent","#2ca02c","transparent"]}},
      "shape": {"field": "m", "type": "nominal", "legend": null, "scale": {"domain": ["MC","Owen","Sobol","Stratified","KernelSHAP","GPGapE","GPGapE-Small"], "range": ["M-0.85,-0.85H0.85V0.85H-0.85Z","M0,-1L0.951,-0.309L0.588,0.809L-0.588,0.809L-0.951,-0.309Z","M0,-1L0.6,0L0,1L-0.6,0Z","M0,-0.95L0.95,0.7L-0.95,0.7Z","M0.85,0A0.85,0.85,0,1,1,-0.85,0A0.85,0.85,0,1,1,0.85,0Z","M0,-1L0.866,-0.5L0.866,0.5L0,1L-0.866,0.5L-0.866,-0.5Z","M-0.85,-0.85L0.85,0.85M-0.85,0.85L0.85,-0.85"]}}}}
   ]}
 ]},
 {"width": 1, "height": 9, "data": {"values": []}, "mark": {"type": "point", "opacity": 0}},
 {"bounds": "flush", "spacing": 0, "hconcat": [
  {"width": 110, "height": 1, "data": {"values": []}, "mark": {"type": "point", "opacity": 0}},
  {"width": 191, "height": 141, "title": "CIFAR10", "view": {"stroke": "black", "strokeWidth": 1.2},
   "data": {"name": "d"}, "transform": [{"filter": "datum.p == 'c2'"}],
   "encoding": {
    "x": {"field": "q", "type": "quantitative", "scale": {"domain": [-150, 3150], "nice": false, "zero": false}, "axis": {"values": [0, 1000, 2000, 3000], "format": "d"}, "title": "# queries"},
    "y": {"field": "y", "type": "quantitative", "scale": {"domain": [0.1898, 0.5492], "nice": false, "zero": false}, "axis": {"values": [0.2, 0.3, 0.4, 0.5], "format": ".1f"}, "title": "Recall"}},
   "layer": [
    {"transform": [{"filter": "isValid(datum.lo)"}], "mark": {"type": "area", "opacity": 0.2},
     "encoding": {"y": {"field": "lo", "type": "quantitative", "scale": {"domain": [0.1898, 0.5492], "nice": false, "zero": false}, "axis": {"values": [0.2, 0.3, 0.4, 0.5], "format": ".1f"}, "title": "Recall"}, "y2": {"field": "hi"},
      "color": {"field": "m", "type": "nominal", "legend": null, "scale": {"domain": ["GPGapE", "GPGapE-Small"], "range": ["#2ca02c", "#1f77b4"]}}}},
    {"mark": {"type": "line", "strokeWidth": 2.5, "strokeDash": [16, 4, 2.5, 4]},
     "encoding": {"stroke": {"field": "m", "type": "nominal", "legend": null, "scale": {"domain": ["MC","Owen","Sobol","Stratified","KernelSHAP","GPGapE","GPGapE-Small"], "range": ["#d62728","#17becf","#9467bd","#e377c2","#ff7f0e","#2ca02c","#1f77b4"]}}}},
    {"transform": [{"filter": "datum.q % 300 == 0 || datum.m == 'KernelSHAP'"}],
     "mark": {"type": "point", "filled": true, "size": 144, "strokeWidth": 2, "opacity": 1},
     "encoding": {
      "stroke": {"field": "m", "type": "nominal", "legend": null, "scale": {"domain": ["MC","Owen","Sobol","Stratified","KernelSHAP","GPGapE","GPGapE-Small"], "range": ["#d62728","#17becf","#9467bd","#e377c2","#ff7f0e","#2ca02c","#1f77b4"]}},
      "fill": {"field": "m", "type": "nominal", "legend": null, "scale": {"domain": ["MC","Owen","Sobol","Stratified","KernelSHAP","GPGapE","GPGapE-Small"], "range": ["transparent","#17becf","#9467bd","transparent","transparent","#2ca02c","transparent"]}},
      "shape": {"field": "m", "type": "nominal", "legend": null, "scale": {"domain": ["MC","Owen","Sobol","Stratified","KernelSHAP","GPGapE","GPGapE-Small"], "range": ["M-0.85,-0.85H0.85V0.85H-0.85Z","M0,-1L0.951,-0.309L0.588,0.809L-0.588,0.809L-0.951,-0.309Z","M0,-1L0.6,0L0,1L-0.6,0Z","M0,-0.95L0.95,0.7L-0.95,0.7Z","M0.85,0A0.85,0.85,0,1,1,-0.85,0A0.85,0.85,0,1,1,0.85,0Z","M0,-1L0.866,-0.5L0.866,0.5L0,1L-0.866,0.5L-0.866,-0.5Z","M-0.85,-0.85L0.85,0.85M-0.85,0.85L0.85,-0.85"]}}}}
   ]},
  {"width": 206, "height": 1, "data": {"values": []}, "mark": {"type": "point", "opacity": 0}},
  {"width": 189, "height": 141, "title": "MNIST", "view": {"stroke": "black", "strokeWidth": 1.2},
   "data": {"name": "d"}, "transform": [{"filter": "datum.p == 'm2'"}],
   "encoding": {
    "x": {"field": "q", "type": "quantitative", "scale": {"domain": [-150, 3150], "nice": false, "zero": false}, "axis": {"values": [0, 1000, 2000, 3000], "format": "d"}, "title": "# queries"},
    "y": {"field": "y", "type": "quantitative", "scale": {"domain": [0.1806, 0.6123], "nice": false, "zero": false}, "axis": {"values": [0.2, 0.4, 0.6], "format": ".1f"}, "title": "Recall"}},
   "layer": [
    {"transform": [{"filter": "isValid(datum.lo)"}], "mark": {"type": "area", "opacity": 0.2},
     "encoding": {"y": {"field": "lo", "type": "quantitative", "scale": {"domain": [0.1806, 0.6123], "nice": false, "zero": false}, "axis": {"values": [0.2, 0.4, 0.6], "format": ".1f"}, "title": "Recall"}, "y2": {"field": "hi"},
      "color": {"field": "m", "type": "nominal", "legend": null, "scale": {"domain": ["GPGapE", "GPGapE-Small"], "range": ["#2ca02c", "#1f77b4"]}}}},
    {"mark": {"type": "line", "strokeWidth": 2.5, "strokeDash": [16, 4, 2.5, 4]},
     "encoding": {"stroke": {"field": "m", "type": "nominal", "legend": null, "scale": {"domain": ["MC","Owen","Sobol","Stratified","KernelSHAP","GPGapE","GPGapE-Small"], "range": ["#d62728","#17becf","#9467bd","#e377c2","#ff7f0e","#2ca02c","#1f77b4"]}}}},
    {"transform": [{"filter": "datum.q % 300 == 0 || datum.m == 'KernelSHAP'"}],
     "mark": {"type": "point", "filled": true, "size": 144, "strokeWidth": 2, "opacity": 1},
     "encoding": {
      "stroke": {"field": "m", "type": "nominal", "legend": null, "scale": {"domain": ["MC","Owen","Sobol","Stratified","KernelSHAP","GPGapE","GPGapE-Small"], "range": ["#d62728","#17becf","#9467bd","#e377c2","#ff7f0e","#2ca02c","#1f77b4"]}},
      "fill": {"field": "m", "type": "nominal", "legend": null, "scale": {"domain": ["MC","Owen","Sobol","Stratified","KernelSHAP","GPGapE","GPGapE-Small"], "range": ["transparent","#17becf","#9467bd","transparent","transparent","#2ca02c","transparent"]}},
      "shape": {"field": "m", "type": "nominal", "legend": null, "scale": {"domain": ["MC","Owen","Sobol","Stratified","KernelSHAP","GPGapE","GPGapE-Small"], "range": ["M-0.85,-0.85H0.85V0.85H-0.85Z","M0,-1L0.951,-0.309L0.588,0.809L-0.588,0.809L-0.951,-0.309Z","M0,-1L0.6,0L0,1L-0.6,0Z","M0,-0.95L0.95,0.7L-0.95,0.7Z","M0.85,0A0.85,0.85,0,1,1,-0.85,0A0.85,0.85,0,1,1,0.85,0Z","M0,-1L0.866,-0.5L0.866,0.5L0,1L-0.866,0.5L-0.866,-0.5Z","M-0.85,-0.85L0.85,0.85M-0.85,0.85L0.85,-0.85"]}}}}
   ]},
  {"width": 207, "height": 1, "data": {"values": []}, "mark": {"type": "point", "opacity": 0}},
  {"width": 189, "height": 141, "title": "FashionMNIST", "view": {"stroke": "black", "strokeWidth": 1.2},
   "data": {"name": "d"}, "transform": [{"filter": "datum.p == 'f2'"}],
   "encoding": {
    "x": {"field": "q", "type": "quantitative", "scale": {"domain": [-150, 3150], "nice": false, "zero": false}, "axis": {"values": [0, 1000, 2000, 3000], "format": "d"}, "title": "# queries"},
    "y": {"field": "y", "type": "quantitative", "scale": {"domain": [0.156, 0.511], "nice": false, "zero": false}, "axis": {"values": [0.2, 0.3, 0.4, 0.5], "format": ".1f"}, "title": "Recall"}},
   "layer": [
    {"transform": [{"filter": "isValid(datum.lo)"}], "mark": {"type": "area", "opacity": 0.2},
     "encoding": {"y": {"field": "lo", "type": "quantitative", "scale": {"domain": [0.156, 0.511], "nice": false, "zero": false}, "axis": {"values": [0.2, 0.3, 0.4, 0.5], "format": ".1f"}, "title": "Recall"}, "y2": {"field": "hi"},
      "color": {"field": "m", "type": "nominal", "legend": null, "scale": {"domain": ["GPGapE", "GPGapE-Small"], "range": ["#2ca02c", "#1f77b4"]}}}},
    {"mark": {"type": "line", "strokeWidth": 2.5, "strokeDash": [16, 4, 2.5, 4]},
     "encoding": {"stroke": {"field": "m", "type": "nominal", "legend": null, "scale": {"domain": ["MC","Owen","Sobol","Stratified","KernelSHAP","GPGapE","GPGapE-Small"], "range": ["#d62728","#17becf","#9467bd","#e377c2","#ff7f0e","#2ca02c","#1f77b4"]}}}},
    {"transform": [{"filter": "datum.q % 300 == 0 || datum.m == 'KernelSHAP'"}],
     "mark": {"type": "point", "filled": true, "size": 144, "strokeWidth": 2, "opacity": 1},
     "encoding": {
      "stroke": {"field": "m", "type": "nominal", "legend": null, "scale": {"domain": ["MC","Owen","Sobol","Stratified","KernelSHAP","GPGapE","GPGapE-Small"], "range": ["#d62728","#17becf","#9467bd","#e377c2","#ff7f0e","#2ca02c","#1f77b4"]}},
      "fill": {"field": "m", "type": "nominal", "legend": null, "scale": {"domain": ["MC","Owen","Sobol","Stratified","KernelSHAP","GPGapE","GPGapE-Small"], "range": ["transparent","#17becf","#9467bd","transparent","transparent","#2ca02c","transparent"]}},
      "shape": {"field": "m", "type": "nominal", "legend": null, "scale": {"domain": ["MC","Owen","Sobol","Stratified","KernelSHAP","GPGapE","GPGapE-Small"], "range": ["M-0.85,-0.85H0.85V0.85H-0.85Z","M0,-1L0.951,-0.309L0.588,0.809L-0.588,0.809L-0.951,-0.309Z","M0,-1L0.6,0L0,1L-0.6,0Z","M0,-0.95L0.95,0.7L-0.95,0.7Z","M0.85,0A0.85,0.85,0,1,1,-0.85,0A0.85,0.85,0,1,1,0.85,0Z","M0,-1L0.866,-0.5L0.866,0.5L0,1L-0.866,0.5L-0.866,-0.5Z","M-0.85,-0.85L0.85,0.85M-0.85,0.85L0.85,-0.85"]}}}}
   ]}
 ]},
 {"width": 1, "height": 13, "data": {"values": []}, "mark": {"type": "point", "opacity": 0}},
 {"bounds": "flush", "spacing": 0, "hconcat": [
  {"width": 171, "height": 1, "data": {"values": []}, "mark": {"type": "point", "opacity": 0}},
  {"width": 810, "height": 30, "view": {"stroke": "#cccccc", "strokeWidth": 1, "cornerRadius": 4, "fill": "white"},
   "data": {"values": []},
   "mark": {"type": "point", "filled": true, "opacity": 1},
   "encoding": {
    "shape": {"field": "m", "type": "nominal",
     "scale": {"domain": ["MC","Owen","Sobol","Stratified","KernelSHAP","GPGapE","GPGapE-Small"], "range": [
      "M-1,0H0.23M0.54,0H0.73M-0.385,-0.385H0.385V0.385H-0.385Z",
      "M-1,0H0.23M0.54,0H0.73M0,-0.46L0.4375,-0.142L0.27,0.372L-0.27,0.372L-0.4375,-0.142Z",
      "M-1,0H0.23M0.54,0H0.73M0,-0.46L0.277,0L0,0.46L-0.277,0Z",
      "M-1,0H0.23M0.54,0H0.73M0,-0.44L0.44,0.32L-0.44,0.32Z",
      "M-1,0H0.23M0.54,0H0.73M0.385,0A0.385,0.385,0,1,1,-0.385,0A0.385,0.385,0,1,1,0.385,0Z",
      "M-1,0H0.23M0.54,0H0.73M0,-0.46L0.4,-0.23L0.4,0.23L0,0.46L-0.4,0.23L-0.4,-0.23Z",
      "M-1,0H0.23M0.54,0H0.73M-0.385,-0.385L0.385,0.385M-0.385,0.385L0.385,-0.385"]},
     "legend": {"title": null, "orient": "none", "legendX": 176, "legendY": -1, "direction": "horizontal", "columns": 7, "gridAlign": "none", "columnPadding": 22, "padding": 0, "symbolSize": 676, "symbolStrokeWidth": 2, "labelOffset": 10.5, "labelFont": "DejaVu Sans", "labelFontSize": 13.3, "labelColor": "black", "labelLimit": 300}},
    "stroke": {"field": "m", "type": "nominal",
     "scale": {"domain": ["MC","Owen","Sobol","Stratified","KernelSHAP","GPGapE","GPGapE-Small"], "range": ["#d62728","#17becf","#9467bd","#e377c2","#ff7f0e","#2ca02c","#1f77b4"]},
     "legend": {"title": null, "orient": "none", "legendX": 176, "legendY": -1, "direction": "horizontal", "columns": 7, "gridAlign": "none", "columnPadding": 22, "padding": 0, "symbolSize": 676, "symbolStrokeWidth": 2, "labelOffset": 10.5, "labelFont": "DejaVu Sans", "labelFontSize": 13.3, "labelColor": "black", "labelLimit": 300}},
    "fill": {"field": "m", "type": "nominal",
     "scale": {"domain": ["MC","Owen","Sobol","Stratified","KernelSHAP","GPGapE","GPGapE-Small"], "range": ["transparent","#17becf","#9467bd","transparent","transparent","#2ca02c","transparent"]},
     "legend": {"title": null, "orient": "none", "legendX": 176, "legendY": -1, "direction": "horizontal", "columns": 7, "gridAlign": "none", "columnPadding": 22, "padding": 0, "symbolSize": 676, "symbolStrokeWidth": 2, "labelOffset": 10.5, "labelFont": "DejaVu Sans", "labelFontSize": 13.3, "labelColor": "black", "labelLimit": 300}}
   }}
 ]}
 ]}
]
}
